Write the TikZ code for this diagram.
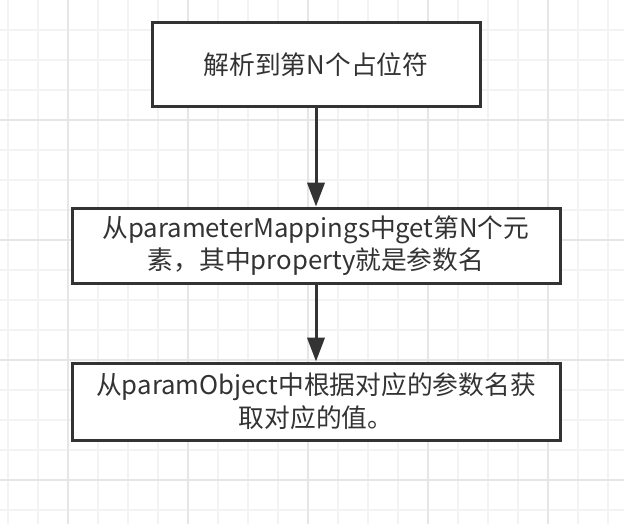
\documentclass[tikz,border=0pt]{standalone}
\usepackage{fontspec}
\setmainfont{Noto Sans CJK SC}
\usetikzlibrary{arrows.meta}
\definecolor{inkgray}{HTML}{333333}
\definecolor{gridminor}{HTML}{F3F3F3}
\definecolor{gridmajor}{HTML}{E6E6E6}

\begin{document}
\begin{tikzpicture}[x=0.75pt,y=-0.75pt,
    stepbox/.style={draw=inkgray,line width=2.25pt,fill=white,align=center,text=inkgray,
      font=\fontsize{19.3pt}{24.5pt}\selectfont,inner sep=0pt},
    flowarrow/.style={draw=inkgray,line width=2.25pt,-{Triangle[length=18pt,width=13pt]}}]
  \useasboundingbox (0,0) rectangle (624,524);
  \fill [white] (0,0) rectangle (624,524);

  % background grid
  \foreach \gx in {8,38,...,608}
    \draw [gridminor, line width=1.5pt] (\gx,0) -- (\gx,524);
  \foreach \gy in {30,60,...,510}
    \draw [gridminor, line width=1.5pt] (0,\gy) -- (624,\gy);
  \foreach \gx in {68,188,...,548}
    \draw [gridmajor, line width=1.5pt] (\gx,0) -- (\gx,524);
  \foreach \gy in {120,240,...,480}
    \draw [gridmajor, line width=1.5pt] (0,\gy) -- (624,\gy);

  \node [stepbox, minimum width=246pt, minimum height=63pt] (parse) at (316,65) {解析到第N个占位符};
  \node [stepbox, minimum width=366pt, minimum height=56.25pt] (lookup) at (316,245.5)
    {从parameterMappings中get第N个元\\素，其中property就是参数名};
  \node [stepbox, minimum width=366pt, minimum height=57.75pt] (fetch) at (316,401.5)
    {从paramObject中根据对应的参数名获\\取对应的值。};

  \draw [flowarrow] (parse) -- (lookup);
  \draw [flowarrow] (lookup) -- (fetch);

\end{tikzpicture}
\end{document}
